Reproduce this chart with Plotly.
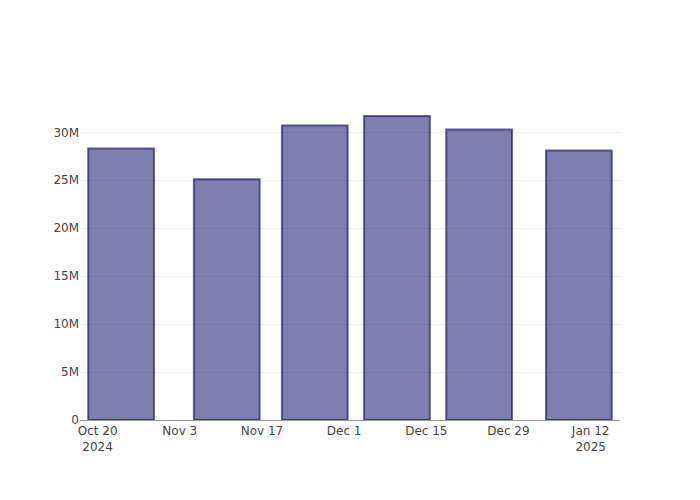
import plotly.graph_objects as go

dates = ["2024-10-24", "2024-11-11", "2024-11-26", "2024-12-10", "2024-12-24", "2025-01-10"]
values = [28.3e6, 25.1e6, 30.7e6, 31.7e6, 30.3e6, 28.1e6]

fig = go.Figure(
    go.Bar(
        x=dates,
        y=values,
        marker=dict(
            color="rgba(0,0,95,0.5)",
            line=dict(color="rgba(20,20,110,0.65)", width=2),
        ),
    )
)

fig.update_layout(
    template="none",
    width=692,
    height=492,
    margin=dict(l=72, r=80, t=92, b=80),
    font=dict(family="DejaVu Sans", size=12, color="#444"),
    plot_bgcolor="white",
    paper_bgcolor="white",
    showlegend=False,
)
fig.update_xaxes(type="date", showgrid=False, showline=True, linecolor="#999", linewidth=1, ticks="")
fig.update_yaxes(showgrid=True, gridcolor="#eee", zeroline=False, ticks="", showline=False)

fig.write_html("out.html")
